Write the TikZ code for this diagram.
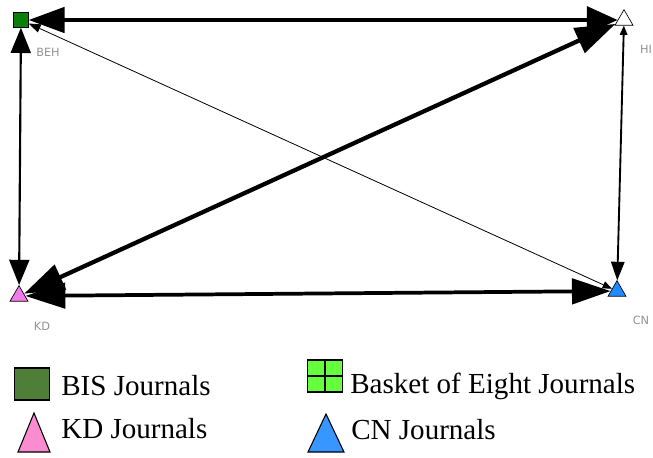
\documentclass[tikz,border=0pt]{standalone}
\usepackage{fontspec}
\setmainfont{Liberation Serif}
\newfontfamily\labfont{DejaVu Sans}
\usepackage{xcolor}
\usetikzlibrary{arrows.meta,shapes.geometric,positioning}
\definecolor{behgreen}{HTML}{0A800A}
\definecolor{kdpink}{HTML}{F07CEA}
\definecolor{cnblue}{HTML}{1E8CFF}
\definecolor{legbis}{HTML}{4F7E38}
\definecolor{legeight}{HTML}{66FF3F}
\definecolor{legkd}{HTML}{FA8CCF}
\definecolor{legcn}{HTML}{3796FF}
\tikzset{
  jrbig/.tip={Triangle[length=27pt,width=19pt]},
  jrmid/.tip={Triangle[length=19pt,width=15pt]},
  jrlow/.tip={Triangle[length=14pt,width=10pt]},
  jrtiny/.tip={Triangle[length=7pt,width=5.5pt]},
  jrsquare/.style={
    rectangle, draw=black, line width=0.5pt,
    minimum size=11pt, inner sep=0pt
  },
  jrtri/.style={
    regular polygon, regular polygon sides=3, draw=black, line width=0.5pt,
    minimum size=15.5pt, inner sep=0pt
  },
  jrlabel/.style={font=\labfont\fontsize{8.5}{10}\selectfont,text=gray!85,inner sep=0pt},
  jredge/.style={line width=#1,black},
  jrtext/.style={font=\fontsize{21.8}{24}\selectfont,anchor=base west,inner sep=0pt},
  jrlegend/.style={draw=black,line width=0.8pt}
}

\begin{document}
\begin{tikzpicture}[x=0.75pt,y=-0.75pt]
  \useasboundingbox (0,0) rectangle (653,457);

  % Journal groups
  \node[jrsquare,fill=behgreen] (BEH) at (21,20) {};
  \node[jrtri,fill=white] (HI) at (624,20) {};
  \node[jrtri,fill=kdpink] (KD) at (19,296) {};
  \node[jrtri,fill=cnblue] (CN) at (617,291) {};

  \node[jrlabel] (BEHlab) at (48,52) {BEH};
  \node[jrlabel] (HIlab) at (646,49) {HI};
  \node[jrlabel] (KDlab) at (42,326) {KD};
  \node[jrlabel] (CNlab) at (641,320) {CN};

  % Ties
  \draw[jredge=0.6pt,{jrtiny[length=9pt,width=6.5pt]}-{jrtiny}] (BEH) -- (CN);
  \draw[jredge=3pt,{jrbig}-{jrbig[length=23pt,width=20pt]}] (BEH) -- (HI);
  \draw[jredge=1.6pt,{jrmid}-{jrmid}] (BEH) -- (KD);
  \draw[jredge=1.4pt,{jrtiny}-{jrlow}] (HI) -- (CN);
  \draw[jredge=2.8pt,{jrbig[length=30pt]}-{jrbig[length=29pt]}] (KD) -- (CN);
  \draw[jredge=3.2pt,{jrbig[length=30pt,width=20pt]}-{jrbig[length=30pt,width=20pt]}] (KD) -- (HI);

  % Legend
  \node[jrlegend,fill=legbis,minimum width=26pt,minimum height=24pt,inner sep=0pt] (legBIS) at (32,384) {};
  \node[jrtext] (txtBIS) at (61,395) {BIS Journals};
  \draw[jrlegend,fill=legkd] (18,452) -- (34,413) -- (50,452) -- cycle;
  \node[jrtext] (txtKD) at (61,438) {KD Journals};

  \node[jrlegend,fill=legeight,minimum width=26pt,minimum height=24pt,inner sep=0pt] (legEight) at (325,376) {};
  \draw[line width=0.8pt] (legEight.north) -- (legEight.south);
  \draw[line width=0.8pt] (legEight.west) -- (legEight.east);
  \node[jrtext] (txtEight) at (350,393) {Basket of Eight Journals};
  \draw[jrlegend,fill=legcn] (308,452) -- (326,414) -- (344,452) -- cycle;
  \node[jrtext] (txtCN) at (351,439) {CN Journals};
\end{tikzpicture}
\end{document}
